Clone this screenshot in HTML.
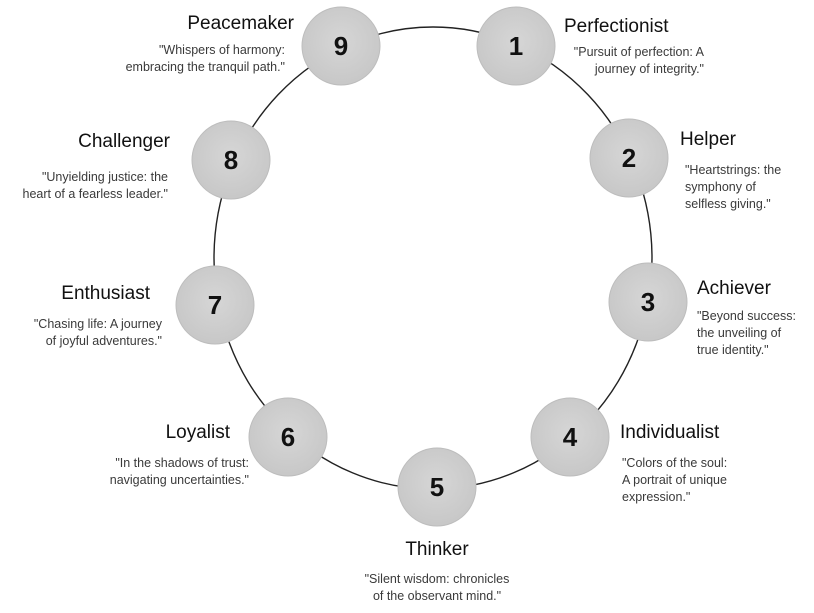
<!DOCTYPE html>
<html><head><meta charset="utf-8"><style>
html,body{margin:0;padding:0;background:#fff;}
svg{display:block;font-family:"Liberation Sans",sans-serif;}
.t{font-size:19px;fill:#111;}
.q{font-size:12.5px;fill:#3a3a3a;}
.n{font-size:26px;font-weight:bold;fill:#111;text-anchor:middle;}
</style></head><body>
<svg width="814" height="613" viewBox="0 0 814 613">
<defs><radialGradient id="g" cx="50%" cy="45%" r="60%"><stop offset="0" stop-color="#d6d6d6"/><stop offset="1" stop-color="#c6c6c6"/></radialGradient></defs>
<ellipse cx="433" cy="258" rx="219" ry="231" fill="none" stroke="#222" stroke-width="1.4"/>
<g fill="url(#g)" stroke="#bdbdbd" stroke-width="1">
<circle cx="341" cy="46" r="39"/><circle cx="516" cy="46" r="39"/>
<circle cx="629" cy="158" r="39"/><circle cx="648" cy="302" r="39"/>
<circle cx="570" cy="437" r="39"/><circle cx="437" cy="487" r="39"/>
<circle cx="288" cy="437" r="39"/><circle cx="215" cy="305" r="39"/>
<circle cx="231" cy="160" r="39"/>
</g>
<text class="n" x="341" y="55">9</text><text class="n" x="516" y="55">1</text>
<text class="n" x="629" y="167">2</text><text class="n" x="648" y="311">3</text>
<text class="n" x="570" y="446">4</text><text class="n" x="437" y="496">5</text>
<text class="n" x="288" y="446">6</text><text class="n" x="215" y="314">7</text>
<text class="n" x="231" y="169">8</text>

<text class="t" x="294" y="29" text-anchor="end">Peacemaker</text>
<text class="q" x="285" y="54" text-anchor="end">"Whispers of harmony:</text>
<text class="q" x="285" y="71" text-anchor="end">embracing the tranquil path."</text>

<text class="t" x="564" y="32">Perfectionist</text>
<text class="q" x="704" y="56" text-anchor="end">"Pursuit of perfection: A</text>
<text class="q" x="704" y="73" text-anchor="end">journey of integrity."</text>

<text class="t" x="680" y="145">Helper</text>
<text class="q" x="685" y="174">"Heartstrings: the</text>
<text class="q" x="685" y="191">symphony of</text>
<text class="q" x="685" y="208">selfless giving."</text>

<text class="t" x="697" y="294">Achiever</text>
<text class="q" x="697" y="320">"Beyond success:</text>
<text class="q" x="697" y="337">the unveiling of</text>
<text class="q" x="697" y="354">true identity."</text>

<text class="t" x="620" y="438">Individualist</text>
<text class="q" x="622" y="467">"Colors of the soul:</text>
<text class="q" x="622" y="484">A portrait of unique</text>
<text class="q" x="622" y="501">expression."</text>

<text class="t" x="437" y="555" text-anchor="middle">Thinker</text>
<text class="q" x="437" y="583" text-anchor="middle">"Silent wisdom: chronicles</text>
<text class="q" x="437" y="600" text-anchor="middle">of the observant mind."</text>

<text class="t" x="230" y="438" text-anchor="end">Loyalist</text>
<text class="q" x="249" y="467" text-anchor="end">"In the shadows of trust:</text>
<text class="q" x="249" y="484" text-anchor="end">navigating uncertainties."</text>

<text class="t" x="150" y="299" text-anchor="end">Enthusiast</text>
<text class="q" x="162" y="328" text-anchor="end">"Chasing life: A journey</text>
<text class="q" x="162" y="345" text-anchor="end">of joyful adventures."</text>

<text class="t" x="170" y="147" text-anchor="end">Challenger</text>
<text class="q" x="168" y="181" text-anchor="end">"Unyielding justice: the</text>
<text class="q" x="168" y="198" text-anchor="end">heart of a fearless leader."</text>
</svg>
</body></html>
